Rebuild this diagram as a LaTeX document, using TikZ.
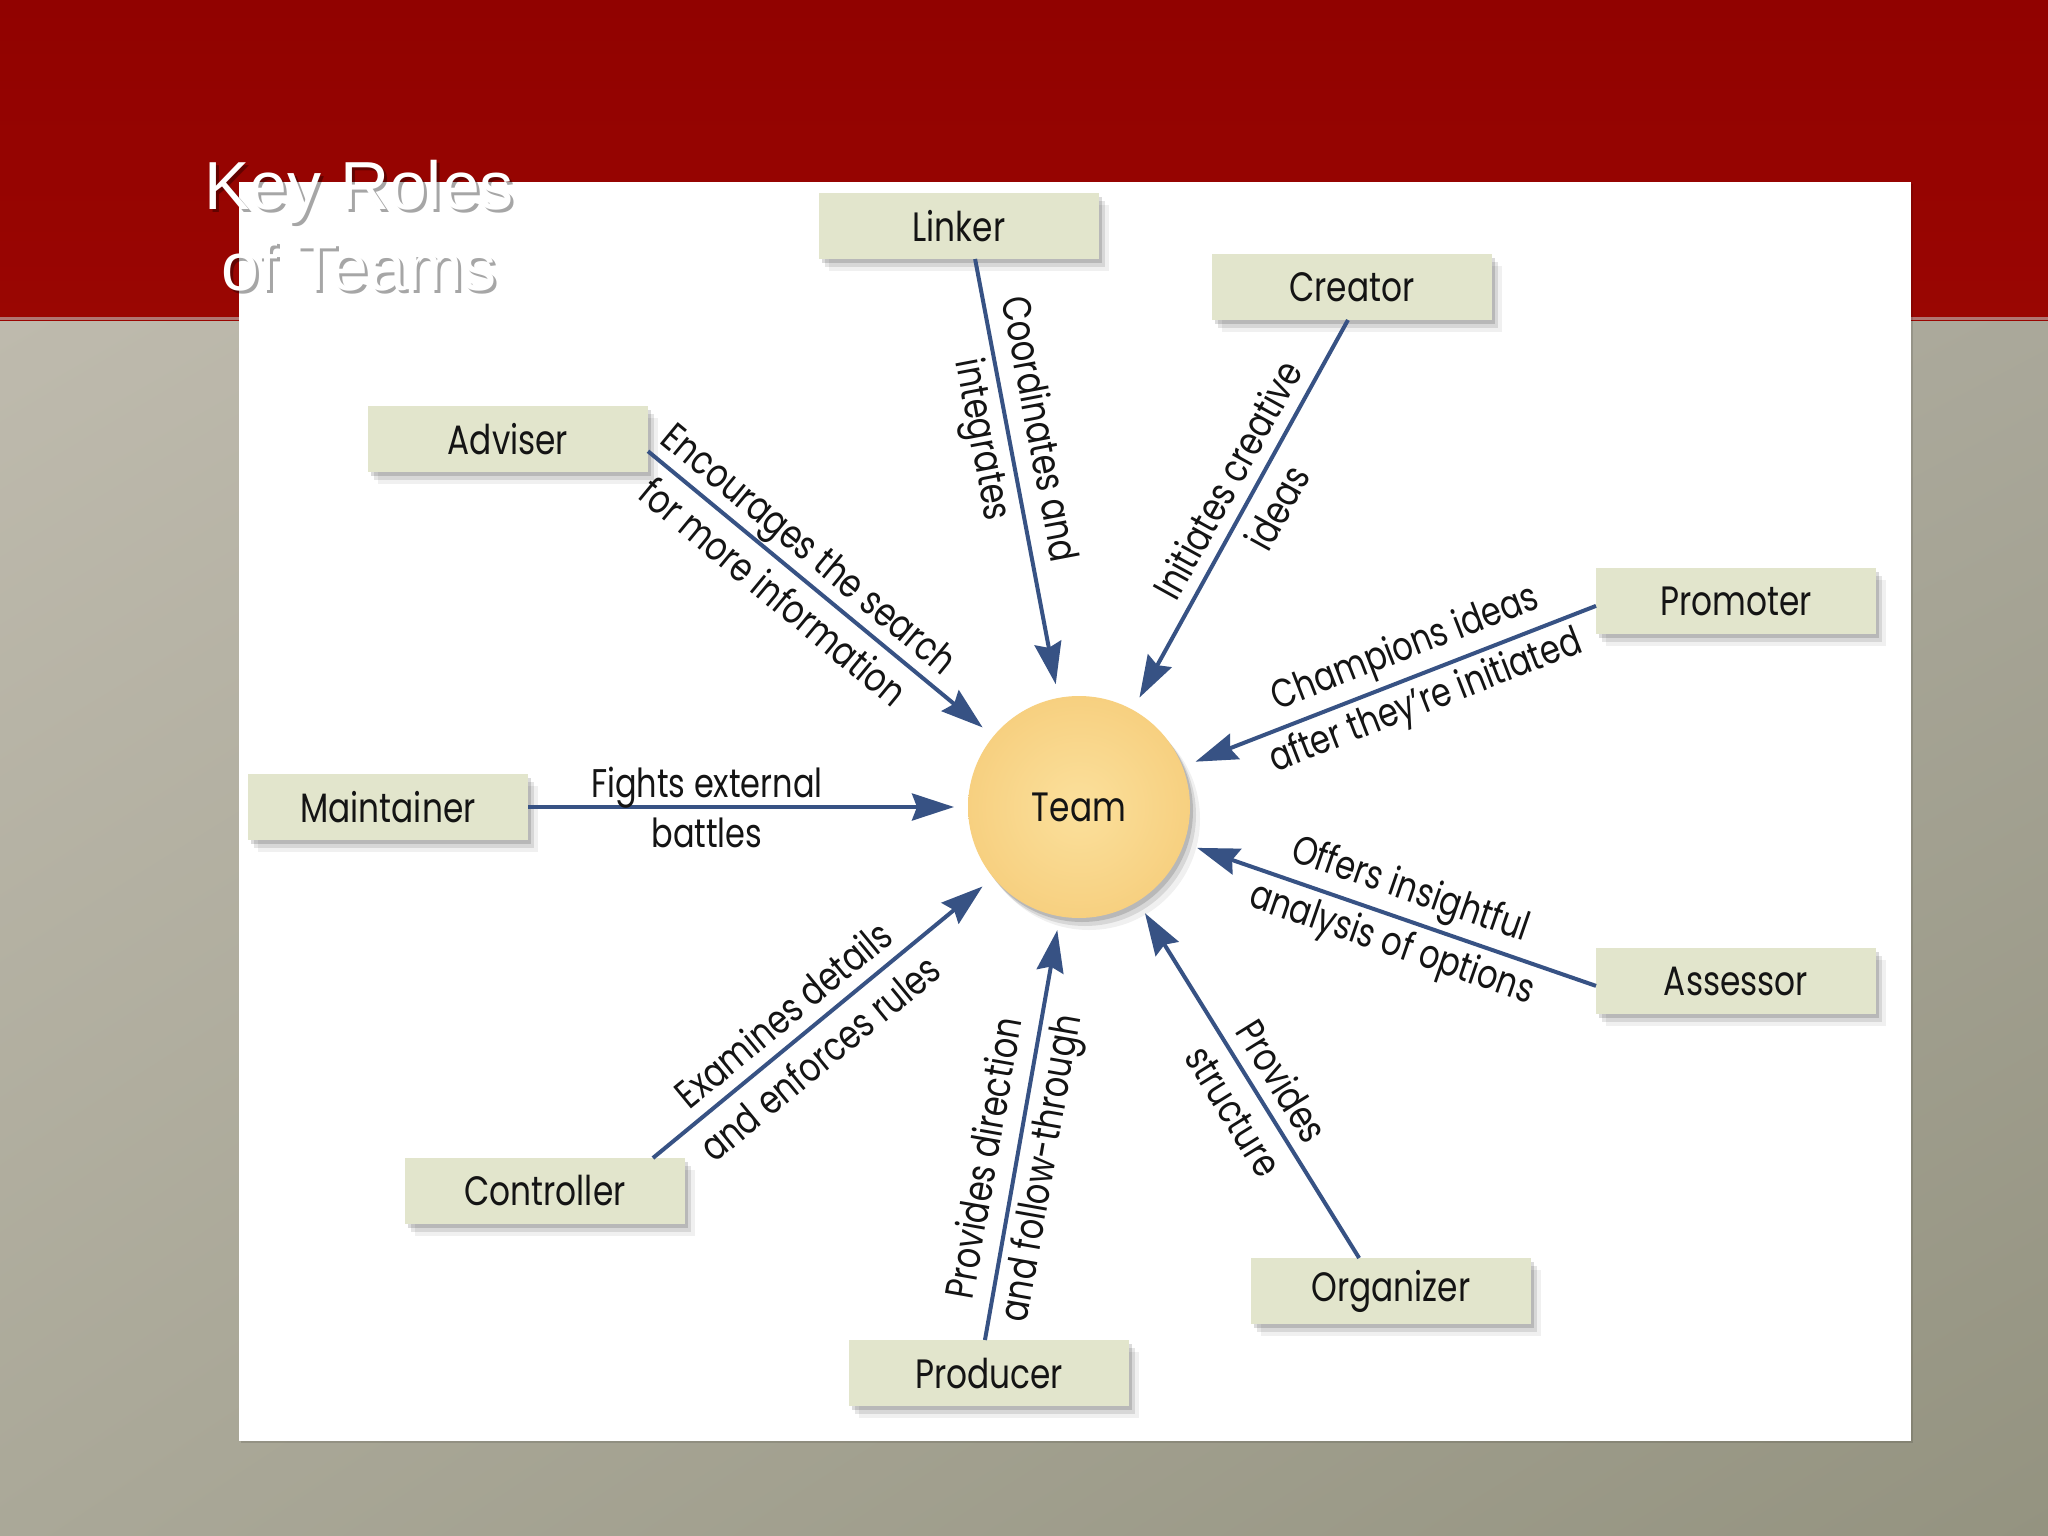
\documentclass[tikz,border=0pt]{standalone}
\usepackage{fontspec}
\setmainfont{Liberation Sans}
\newfontfamily\labfont[FakeStretch=0.8]{Poppins}
\newfontfamily\titlefont{Liberation Sans}
\usetikzlibrary{arrows.meta,shadows,shadings}
\definecolor{bandred}{RGB}{154,6,2}
\definecolor{bandredtop}{RGB}{145,2,0}
\definecolor{boxfill}{RGB}{226,229,204}
\definecolor{arrowblue}{RGB}{55,82,132}
\definecolor{teamin}{RGB}{251,224,156}
\definecolor{teamout}{RGB}{247,208,128}
\definecolor{txt}{RGB}{20,20,20}
\definecolor{bgul}{RGB}{190,186,173}
\definecolor{bgur}{RGB}{170,168,154}
\definecolor{bgll}{RGB}{170,168,152}
\definecolor{bglr}{RGB}{148,147,128}
\definecolor{bandline}{RGB}{176,118,114}
\begin{document}
\begin{tikzpicture}[x=1pt,y=-1pt,
  softshadow/.style={
    drop shadow={shadow xshift=3pt,shadow yshift=-4pt,opacity=0.14,fill=black},
    drop shadow={shadow xshift=6pt,shadow yshift=-8pt,opacity=0.10,fill=black},
    drop shadow={shadow xshift=10pt,shadow yshift=-12pt,opacity=0.06,fill=black}},
  rolebox/.style={softshadow, fill=boxfill, draw=none, minimum width=280pt, minimum height=66pt,
    inner sep=0pt, outer sep=0pt, text=txt, font=\labfont\fontsize{41}{44}\selectfont},
  teamc/.style={circle, softshadow, inner color=teamin, outer color=teamout, minimum size=222pt,
    inner sep=0pt, outer sep=14pt, text=txt, font=\labfont\fontsize{41}{44}\selectfont},
  arr/.style={draw=arrowblue, line width=4pt, -{Stealth[length=42pt,width=27pt,inset=5pt]}},
  lab/.style={align=center, inner sep=0pt, text=txt, font=\labfont\fontsize{40}{57}\selectfont},
  labh/.style={align=center, inner sep=0pt, text=txt, font=\labfont\fontsize{40}{50}\selectfont}
]
\useasboundingbox (0,0) rectangle (2048,1536);
% background
\shade[upper left=bgul, upper right=bgur, lower left=bgll, lower right=bglr]
  (0,320) rectangle (2048,1536);
\shade[top color=bandredtop, bottom color=bandred] (0,0) rectangle (2048,320);
\fill[bandline] (0,317) rectangle (2048,320);
% white panel
\fill[black, opacity=0.12] (241,184) rectangle (1913,1443);
\fill[white] (239,182) rectangle (1911,1441);
% title
\node[align=center, inner sep=0pt, text=black, opacity=0.35, font=\titlefont\fontsize{68}{81}\selectfont] at (362,229) {Key Roles\\of Teams};
\node[align=center, inner sep=0pt, text=white, font=\titlefont\fontsize{68}{81}\selectfont] (title) at (359,226) {Key Roles\\of Teams};
% nodes
\node[rolebox] (linker) at (959,226) {Linker};
\node[rolebox] (creator) at (1352,287) {Creator};
\node[rolebox] (adviser) at (508,439) {Adviser};
\node[rolebox] (promoter) at (1736,601) {Promoter};
\node[rolebox] (maintainer) at (388,807) {Maintainer};
\node[rolebox] (assessor) at (1736,981) {Assessor};
\node[rolebox] (controller) at (545,1191) {Controller};
\node[rolebox] (organizer) at (1391,1291) {Organizer};
\node[rolebox] (producer) at (989,1373) {Producer};
\node[teamc] (team) at (1079,807) {Team};
% connectors
\draw[arr] (linker.-64) -- node[lab,sloped,pos=0.414] {Coordinates and\\integrates} (team);
\draw[arr] (creator.-97) -- node[lab,sloped,pos=0.46] {Initiates creative\\ideas} (team);
\draw[arr] (adviser.-5) -- node[lab,sloped,pos=0.43] {Encourages the search\\for more information} (team);
\draw[arr] (promoter.-178) -- node[lab,sloped,pos=0.45] {Champions ideas\\after they’re initiated} (team);
\draw[arr] (maintainer.east) -- node[labh,sloped,pos=0.42] {Fights external\\battles} (team);
\draw[arr] (assessor.-178) -- node[lab,sloped,pos=0.49] {Offers insightful\\analysis of options} (team);
\draw[arr] (controller.17) -- node[lab,sloped,pos=0.45] {Examines details\\and enforces rules} (team);
\draw[arr] (producer.97) -- node[lab,sloped,pos=0.43] {Provides direction\\and follow-through} (team);
\draw[arr] (organizer.134) -- node[lab,sloped,pos=0.47] {Provides\\structure} (team);
\end{tikzpicture}
\end{document}
